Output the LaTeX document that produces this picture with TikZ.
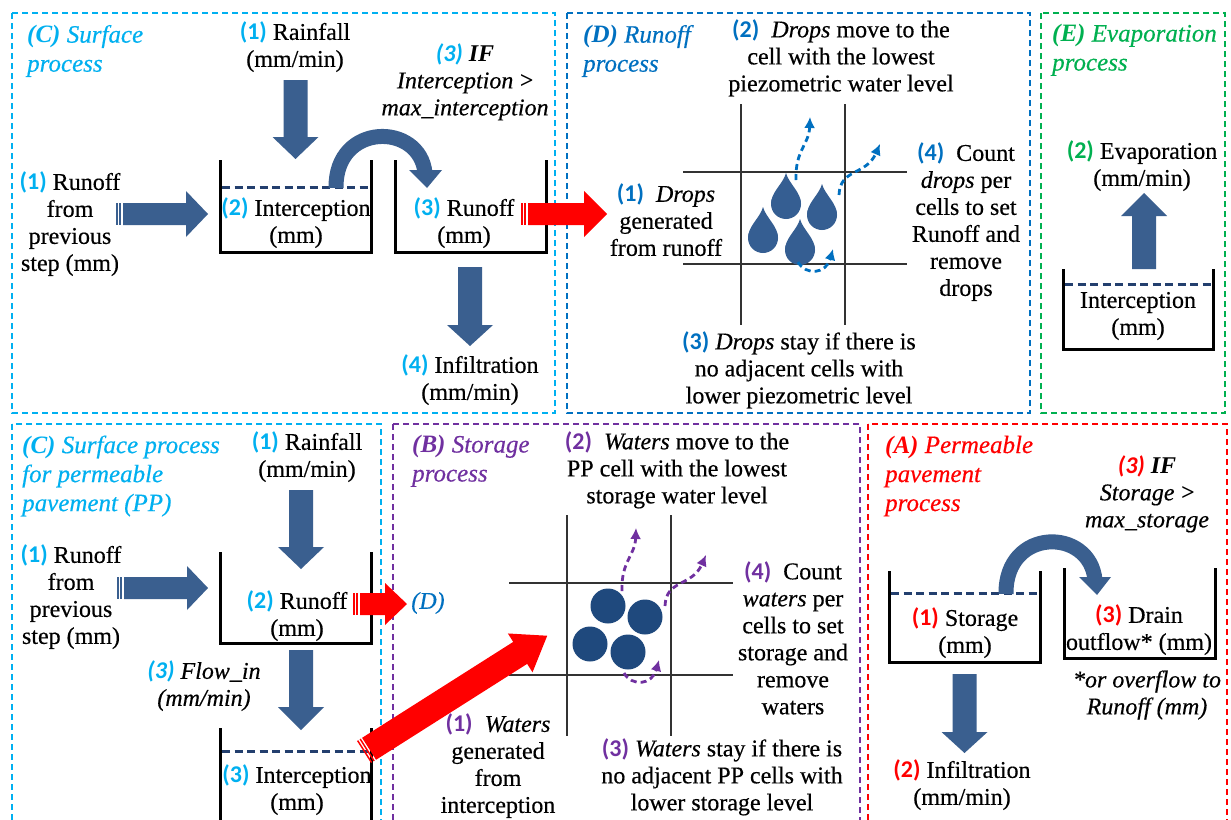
\documentclass[tikz,border=0pt]{standalone}
\usepackage{fontspec}
\setmainfont{Liberation Serif}[UprightFeatures={FakeBold=0.4},ItalicFeatures={FakeBold=0.4}]
\newfontfamily\numfont{Carlito}
\usetikzlibrary{arrows.meta}
\definecolor{cC}{HTML}{00B0F0}
\definecolor{cD}{HTML}{0070C0}
\definecolor{cE}{HTML}{00B050}
\definecolor{cB}{HTML}{7030A0}
\definecolor{cA}{HTML}{FF0000}
\definecolor{arrowblue}{HTML}{3A5F8F}
\definecolor{dropblue}{HTML}{355E92}
\definecolor{circblue}{HTML}{1F497D}
\definecolor{levelblue}{HTML}{233F6E}
\newcommand{\numlbl}[2]{{\numfont\bfseries\color{#1}#2}}
\newcommand{\vblock}[5]{%
  \fill[#5] (#1-12,#2) -- (#1+12,#2) -- (#1+12,#3) -- (#1+23,#3) -- (#1,#4) -- (#1-23,#3) -- (#1-12,#3) -- cycle;}
\newcommand{\hblock}[6]{%
  \fill[#5] (#2-7,#1-11) -- (#2-5.5,#1-11) -- (#2-5.5,#1+11) -- (#2-7,#1+11) -- cycle;
  \fill[#5] (#2-4,#1-11) -- (#2-2.5,#1-11) -- (#2-2.5,#1+11) -- (#2-4,#1+11) -- cycle;
  \fill[#5] (#2,#1-11) -- (#3,#1-11) -- (#3,#1-#6) -- (#4,#1) -- (#3,#1+#6) -- (#3,#1+11) -- (#2,#1+11) -- cycle;}
\newcommand{\teardrop}[2]{%
  \fill[dropblue] (#1,#2-31) .. controls (#1+3,#2-20) and (#1+15,#2-12) .. (#1+15,#2) -- (#1-15,#2) .. controls (#1-15,#2-12) and (#1-3,#2-20) .. (#1,#2-31) -- cycle;
  \fill[dropblue] (#1,#2) circle[radius=15pt];}
\newcommand{\cellgrid}[1]{%
  \draw[gridline] (741,104) -- (741,325);
  \draw[gridline] (845,104) -- (845,325);
  \draw[gridline] (683,172) -- (907,172);
  \draw[gridline] (683,264) -- (907,264);}
\newcommand{\cellflows}[1]{%
  \draw[flow,#1] (796,180) .. controls (795,150) and (809,145) .. (810,117);
  \draw[flow,#1] (839,195) .. controls (840,168) and (866,176) .. (880,144);
  \draw[flow,#1] (798,262) .. controls (806,276) and (826,274) .. (833,249);}
\tikzset{
  procbox/.style={line width=1.5pt, dash pattern=on 6pt off 4pt},
  tank/.style={line width=3pt, line join=miter},
  level/.style={line width=3pt, levelblue, dash pattern=on 8pt off 4.5pt},
  txt/.style={align=center, font=\fontsize{24}{27}\selectfont, inner sep=0pt},
  itxt/.style={align=center, font=\fontsize{24}{27}\selectfont\itshape, inner sep=0pt},
  ttl/.style={align=left, font=\fontsize{25}{29}\selectfont\itshape, inner sep=0pt, anchor=west},
  gridline/.style={line width=2pt, black!80},
  flow/.style={line width=2.8pt, dash pattern=on 6pt off 4pt, -{Latex[length=11pt,width=11pt]}},
  overarc/.style={line width=15pt, arrowblue}
}
\begin{document}
\begin{tikzpicture}[x=1pt,y=-1pt]
\useasboundingbox (0,0) rectangle (1231,819);
\clip (0,0) rectangle (1231,819);
\fill[white] (0,0) rectangle (1231,819);

% process boxes
\draw[procbox,cC] (12,13) rectangle (555,413);
\draw[procbox,cD] (567,13) rectangle (1030,413);
\draw[procbox,cE] (1041,13) rectangle (1225,413);
\draw[procbox,cC] (12,424) rectangle (381,830);
\draw[procbox,cB] (393,424) rectangle (860,830);
\draw[procbox,cA] (868,424) rectangle (1227,830);

% tanks
\draw[tank] (220,160) -- (220,252) -- (371,252) -- (371,160);
\draw[level] (222,187) -- (370,187);
\draw[tank] (395,160) -- (395,252) -- (546,252) -- (546,160);
\draw[tank] (1063,269) -- (1063,349) -- (1213,349) -- (1213,269);
\draw[level] (1065,284) -- (1212,284);
\draw[tank] (220,552) -- (220,643) -- (371,643) -- (371,552);
\draw[tank] (220,728) -- (220,830) -- (371,830) -- (371,728);
\draw[level] (222,751) -- (370,751);
\draw[tank] (889,571) -- (889,662) -- (1040,662) -- (1040,571);
\draw[level] (891,593) -- (1039,593);
\draw[tank] (1064,568) -- (1064,658) -- (1215,658) -- (1215,568);

% grids
\cellgrid{cD}
\begin{scope}[shift={(-174,411)}]
\cellgrid{cB}
\end{scope}

% drops
\teardrop{786}{204}
\teardrop{822}{215}
\teardrop{763}{238}
\teardrop{800}{250}
% waters
\fill[circblue] (608,606) circle[radius=17.5pt];
\fill[circblue] (645,617) circle[radius=17.5pt];
\fill[circblue] (590,644) circle[radius=17.5pt];
\fill[circblue] (628,652) circle[radius=17.5pt];

\cellflows{cD}
\begin{scope}[shift={(-174,411)}]
\cellflows{cB}
\end{scope}

% curved overflow arrows
\draw[overarc] (336,188) .. controls (335,122) and (420,122) .. (425,173);
\fill[arrowblue] (409,170) -- (442,170) -- (427,188) -- cycle;
\draw[overarc] (1006,594) .. controls (1005,527) and (1090,527) .. (1095,580);
\fill[arrowblue] (1079,577) -- (1111,577) -- (1097,595) -- cycle;

% block arrows
\vblock{295.5}{80}{137}{159}{arrowblue}
\vblock{470}{267}{325}{346}{arrowblue}
\vblock{1144}{269}{216}{193}{arrowblue}
\vblock{301}{490}{547}{569}{arrowblue}
\vblock{301}{650}{707}{730}{arrowblue}
\vblock{964.5}{674}{732}{753}{arrowblue}
\hblock{214}{123}{186}{208}{arrowblue}{23}
\hblock{214}{528}{584}{607}{cA}{23}
\hblock{588}{124}{187}{208}{arrowblue}{22}
\hblock{604}{360}{385}{407}{cA}{21}
\begin{scope}[shift={(364,752)}, rotate=32.4]
  \fill[cA] (0,-13) -- (1.5,-13) -- (1.5,13) -- (0,13) -- cycle;
  \fill[cA] (3,-13) -- (4.5,-13) -- (4.5,13) -- (3,13) -- cycle;
  \fill[cA] (6,-13) -- (185,-13) -- (185,-23) -- (217,0) -- (185,23) -- (185,13) -- (6,13) -- cycle;
\end{scope}

% ---- texts: top C
\node[ttl,text=cC] (tC) at (27,51) {{\bfseries(C)} Surface\\process};
\node[txt] (rain1) at (295,47) {\numlbl{cC}{(1)} Rainfall\\(mm/min)};
\node[itxt] (if1) at (465,82) {\numlbl{cC}{(3)} {\bfseries IF}\\Interception {\bfseries >}\\max\_interception};
\node[txt] (ro1) at (70,224) {\numlbl{cC}{(1)} Runoff\\from\\previous\\step (mm)};
\node[txt] (ti1) at (296,223) {\numlbl{cC}{(2)} Interception\\(mm)};
\node[txt] (tr1) at (464,223) {\numlbl{cC}{(3)} Runoff\\(mm)};
\node[txt] (inf1) at (470,380) {\numlbl{cC}{(4)} Infiltration\\(mm/min)};
% top D
\node[ttl,text=cD] (tD) at (583,51) {{\bfseries(D)} Runoff\\process};
\node[txt] (d2) at (841,58) {\numlbl{cD}{(2)}\ \ \textit{Drops} move to the\\cell with the lowest\\piezometric water level};
\node[txt] (d1) at (666,220) {\numlbl{cD}{(1)}\ \ \textit{Drops}\\generated\\from runoff};
\node[txt] (d4) at (966,222) {\numlbl{cD}{(4)}\ \ Count\\\textit{drops} per\\cells to set\\Runoff and\\remove\\drops};
\node[txt] (d3) at (799,370) {\numlbl{cD}{(3)} \textit{Drops} stay if there is\\no adjacent cells with\\lower piezometric level};
% E
\node[ttl,text=cE] (tE) at (1052,50) {{\bfseries(E)} Evaporation\\process};
\node[txt] (ev) at (1142,166) {\numlbl{cE}{(2)} Evaporation\\(mm/min)};
\node[txt] (ti3) at (1138,316) {Interception\\(mm)};
% bottom C
\node[ttl,text=cC] (tC2) at (22,476) {{\bfseries(C)} Surface process\\for permeable\\pavement (PP)};
\node[txt] (rain2) at (307,457) {\numlbl{cC}{(1)} Rainfall\\(mm/min)};
\node[txt] (ro2) at (71,597) {\numlbl{cC}{(1)} Runoff\\from\\previous\\step (mm)};
\node[txt] (tr2) at (297,616) {\numlbl{cC}{(2)} Runoff\\(mm)};
\node[itxt] (fi) at (204,686) {\numlbl{cC}{(3)} Flow\_in\\(mm/min)};
\node[txt] (ti2) at (297,790) {\numlbl{cC}{(3)} Interception\\(mm)};
\node[itxt,text=cD] (dref) at (428,603) {(D)};
% B
\node[ttl,text=cB] (tB) at (412,461) {{\bfseries(B)} Storage\\process};
\node[txt] (b2) at (677,470) {\numlbl{cB}{(2)}\ \ \textit{Waters} move to the\\PP cell with the lowest\\storage water level};
\node[txt] (b1) at (498,766) {\numlbl{cB}{(1)}\ \ \textit{Waters}\\generated\\from\\interception};
\node[txt] (b3) at (722,777) {\numlbl{cB}{(3)} \textit{Waters} stay if there is\\no adjacent PP cells with\\lower storage level};
\node[txt] (b4) at (793,638) {\numlbl{cB}{(4)}\ \ Count\\\textit{waters} per\\cells to set\\storage and\\remove\\waters};
% A
\node[ttl,text=cA] (tA) at (885,476) {{\bfseries(A)} Permeable\\pavement\\process};
\node[itxt] (if2) at (1147,494) {\numlbl{cA}{(3)} {\bfseries IF}\\Storage {\bfseries >}\\max\_storage};
\node[txt] (st) at (965,633) {\numlbl{cA}{(1)} Storage\\(mm)};
\node[txt] (dr) at (1139,630) {\numlbl{cA}{(3)} Drain\\outflow* (mm)};
\node[itxt] (ov) at (1147,695) {*or overflow to\\Runoff (mm)};
\node[txt] (inf2) at (962,785) {\numlbl{cA}{(2)} Infiltration\\(mm/min)};
\end{tikzpicture}
\end{document}
